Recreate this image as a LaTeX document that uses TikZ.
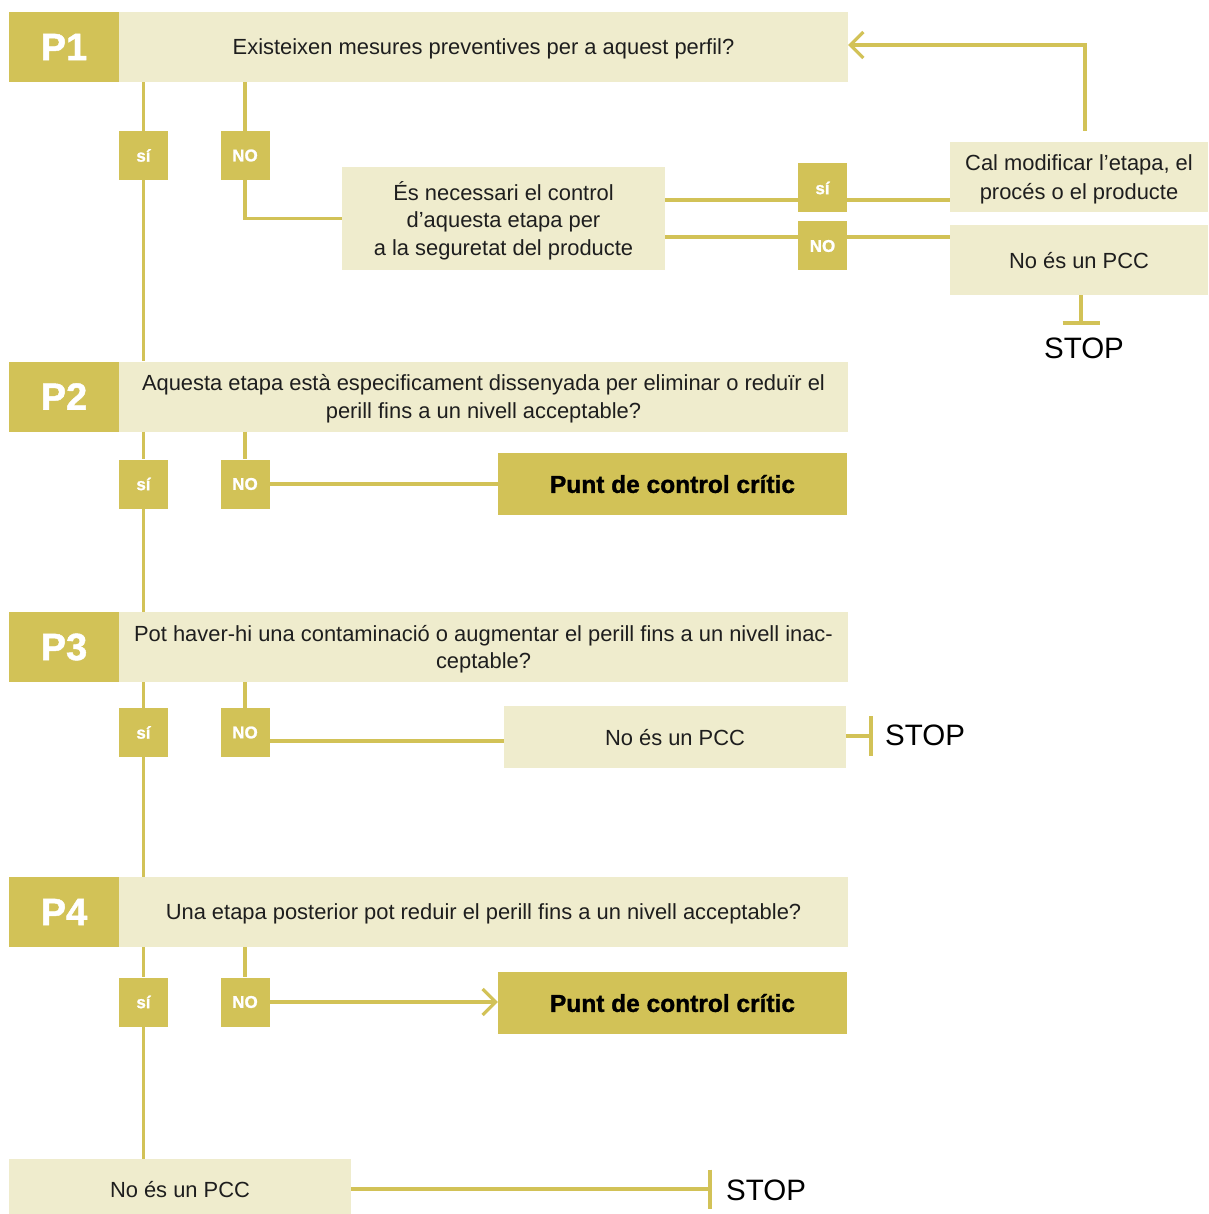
\documentclass[tikz,border=0pt]{standalone}
\usepackage{fontspec}
\setmainfont{Liberation Sans}
\newfontfamily\heavyfont[FakeBold=1.2]{Liberation Sans Bold}
\usetikzlibrary{arrows.meta}
\definecolor{gold}{HTML}{D2C257}
\definecolor{cream}{HTML}{EFECCD}
\definecolor{ink}{HTML}{1E1E1E}
\newcommand{\fsz}[2]{\fontsize{#1}{#2}\selectfont}
\begin{document}
\begin{tikzpicture}[x=1pt,y=-1pt,
 plab/.style={fill=gold, text=white, inner sep=0pt, minimum width=110pt, minimum height=70pt, font=\heavyfont\fsz{38}{38}},
 qbox/.style={fill=cream, text=ink, inner sep=0pt, align=center, text depth=0pt, font=\fsz{21.9}{27.5}},
 yn/.style={fill=gold, text=white, inner sep=0pt, minimum width=49pt, minimum height=49pt, font=\heavyfont\fsz{17}{17}},
 pcc/.style={fill=gold, text=black, inner sep=0pt, minimum width=349pt, minimum height=62pt, font=\heavyfont\fsz{24.5}{24.5}},
 stoptxt/.style={inner sep=0pt, text=black, font=\fsz{29.5}{29.5}},
 conn/.style={draw=gold, line width=3.2pt},
 chev/.style={-{Straight Barb[length=13pt,width=26pt,line width=3.2pt]}}
]
\useasboundingbox (0,0) rectangle (1208,1214);
\fill[white] (0,0) rectangle (1208,1214);

% ---------- P1 ----------
\node[plab] (p1d) at (64,47) {P1};
\node[qbox, minimum width=729pt, minimum height=70pt] (p1) at (483.5,47) {Existeixen mesures preventives per a aquest perfil?};
\node[yn] (s1) at (143.5,155.5) {sí};
\node[yn] (n1) at (245,155.5) {NO};
\node[qbox, minimum width=323pt, minimum height=103pt] (q) at (503.5,218.5) {És necessari el control\\d’aquesta etapa per\\a la seguretat del producte};
\node[qbox, minimum width=258pt, minimum height=70pt, font=\fsz{21.9}{28.5}] (cal) at (1079,177) {Cal modificar l’etapa, el\\procés o el producte};
\node[qbox, minimum width=258pt, minimum height=70pt] (npcc1) at (1079,260) {No és un PCC};

\draw[conn] (s1.north |- p1.south) -- (s1.north);
\draw[conn] (n1.north |- p1.south) -- (n1.north);
\draw[conn] (n1.south) |- (q.west);

\coordinate (qs) at (665,200);
\coordinate (qn) at (665,237);
\draw[conn] (qs) -- (qs -| cal.west);
\draw[conn] (qn) -- (qn -| npcc1.west);
\node[yn] (s5) at (822.5,188) {sí};
\node[yn] (n5) at (822.5,246) {NO};

\coordinate (ret) at (1085,131);
\draw[conn,chev] (ret) |- ([yshift=2pt]p1.east);

\coordinate (t1) at (1081,323);
\draw[conn] (npcc1.south -| t1) -- (t1);
\draw[conn] ([xshift=-18.5pt]t1) -- ([xshift=18.5pt]t1);
\node[stoptxt] (stop1) at (1084,348) {STOP};

% ---------- P2 ----------
\node[plab] (p2d) at (64,396.5) {P2};
\node[qbox, minimum width=729pt, minimum height=70pt] (p2) at (483.5,396.5) {Aquesta etapa està especificament dissenyada per eliminar o reduïr el\\perill fins a un nivell acceptable?};
\draw[conn] (s1.south) -- (s1.south |- p2.north);
\node[yn] (s2) at (143.5,484) {sí};
\node[yn] (n2) at (245,484) {NO};
\draw[conn] (s2.north |- p2.south) -- (s2.north);
\draw[conn] (n2.north |- p2.south) -- (n2.north);
\node[pcc] (pc1) at (672.5,484) {Punt de control crític};
\draw[conn] (n2.east) -- (n2.east -| pc1.west);

% ---------- P3 ----------
\node[plab] (p3d) at (64,647) {P3};
\node[qbox, minimum width=729pt, minimum height=70pt] (p3) at (483.5,647) {Pot haver-hi una contaminació o augmentar el perill fins a un nivell inac-\\ceptable?};
\draw[conn] (s2.south) -- (s2.south |- p3.north);
\node[yn] (s3) at (143.5,732.5) {sí};
\node[yn] (n3) at (245,732.5) {NO};
\draw[conn] (s3.north |- p3.south) -- (s3.north);
\draw[conn] (n3.north |- p3.south) -- (n3.north);
\node[qbox, minimum width=342pt, minimum height=62pt] (npcc2) at (675,737) {No és un PCC};
\draw[conn] ([yshift=-8.5pt]n3.east) -- ([yshift=-8.5pt]n3.east -| npcc2.west);
\coordinate (t2) at (871,736);
\draw[conn] (npcc2.east |- t2) -- (t2);
\draw[conn] ([yshift=20pt]t2) -- ([yshift=-20pt]t2);
\node[stoptxt, anchor=west] (stop2) at (885,735) {STOP};

% ---------- P4 ----------
\node[plab] (p4d) at (64,912) {P4};
\node[qbox, minimum width=729pt, minimum height=70pt] (p4) at (483.5,912) {Una etapa posterior pot reduir el perill fins a un nivell acceptable?};
\draw[conn] (s3.south) -- (s3.south |- p4.north);
\node[yn] (s4) at (143.5,1002) {sí};
\node[yn] (n4) at (245,1002) {NO};
\draw[conn] (s4.north |- p4.south) -- (s4.north);
\draw[conn] (n4.north |- p4.south) -- (n4.north);
\node[pcc] (pc2) at (672.5,1003) {Punt de control crític};
\draw[conn,chev] (n4.east) -- (n4.east -| pc2.west);

% ---------- bottom ----------
\node[qbox, minimum width=342pt, minimum height=60pt] (npcc3) at (180,1189) {No és un PCC};
\draw[conn] (s4.south) -- (s4.south |- npcc3.north);
\coordinate (t3) at (710,1189);
\draw[conn] (npcc3.east |- t3) -- (t3);
\draw[conn] ([yshift=19.5pt]t3) -- ([yshift=-19.5pt]t3);
\node[stoptxt, anchor=west] (stop3) at (726,1190) {STOP};
\end{tikzpicture}
\end{document}
